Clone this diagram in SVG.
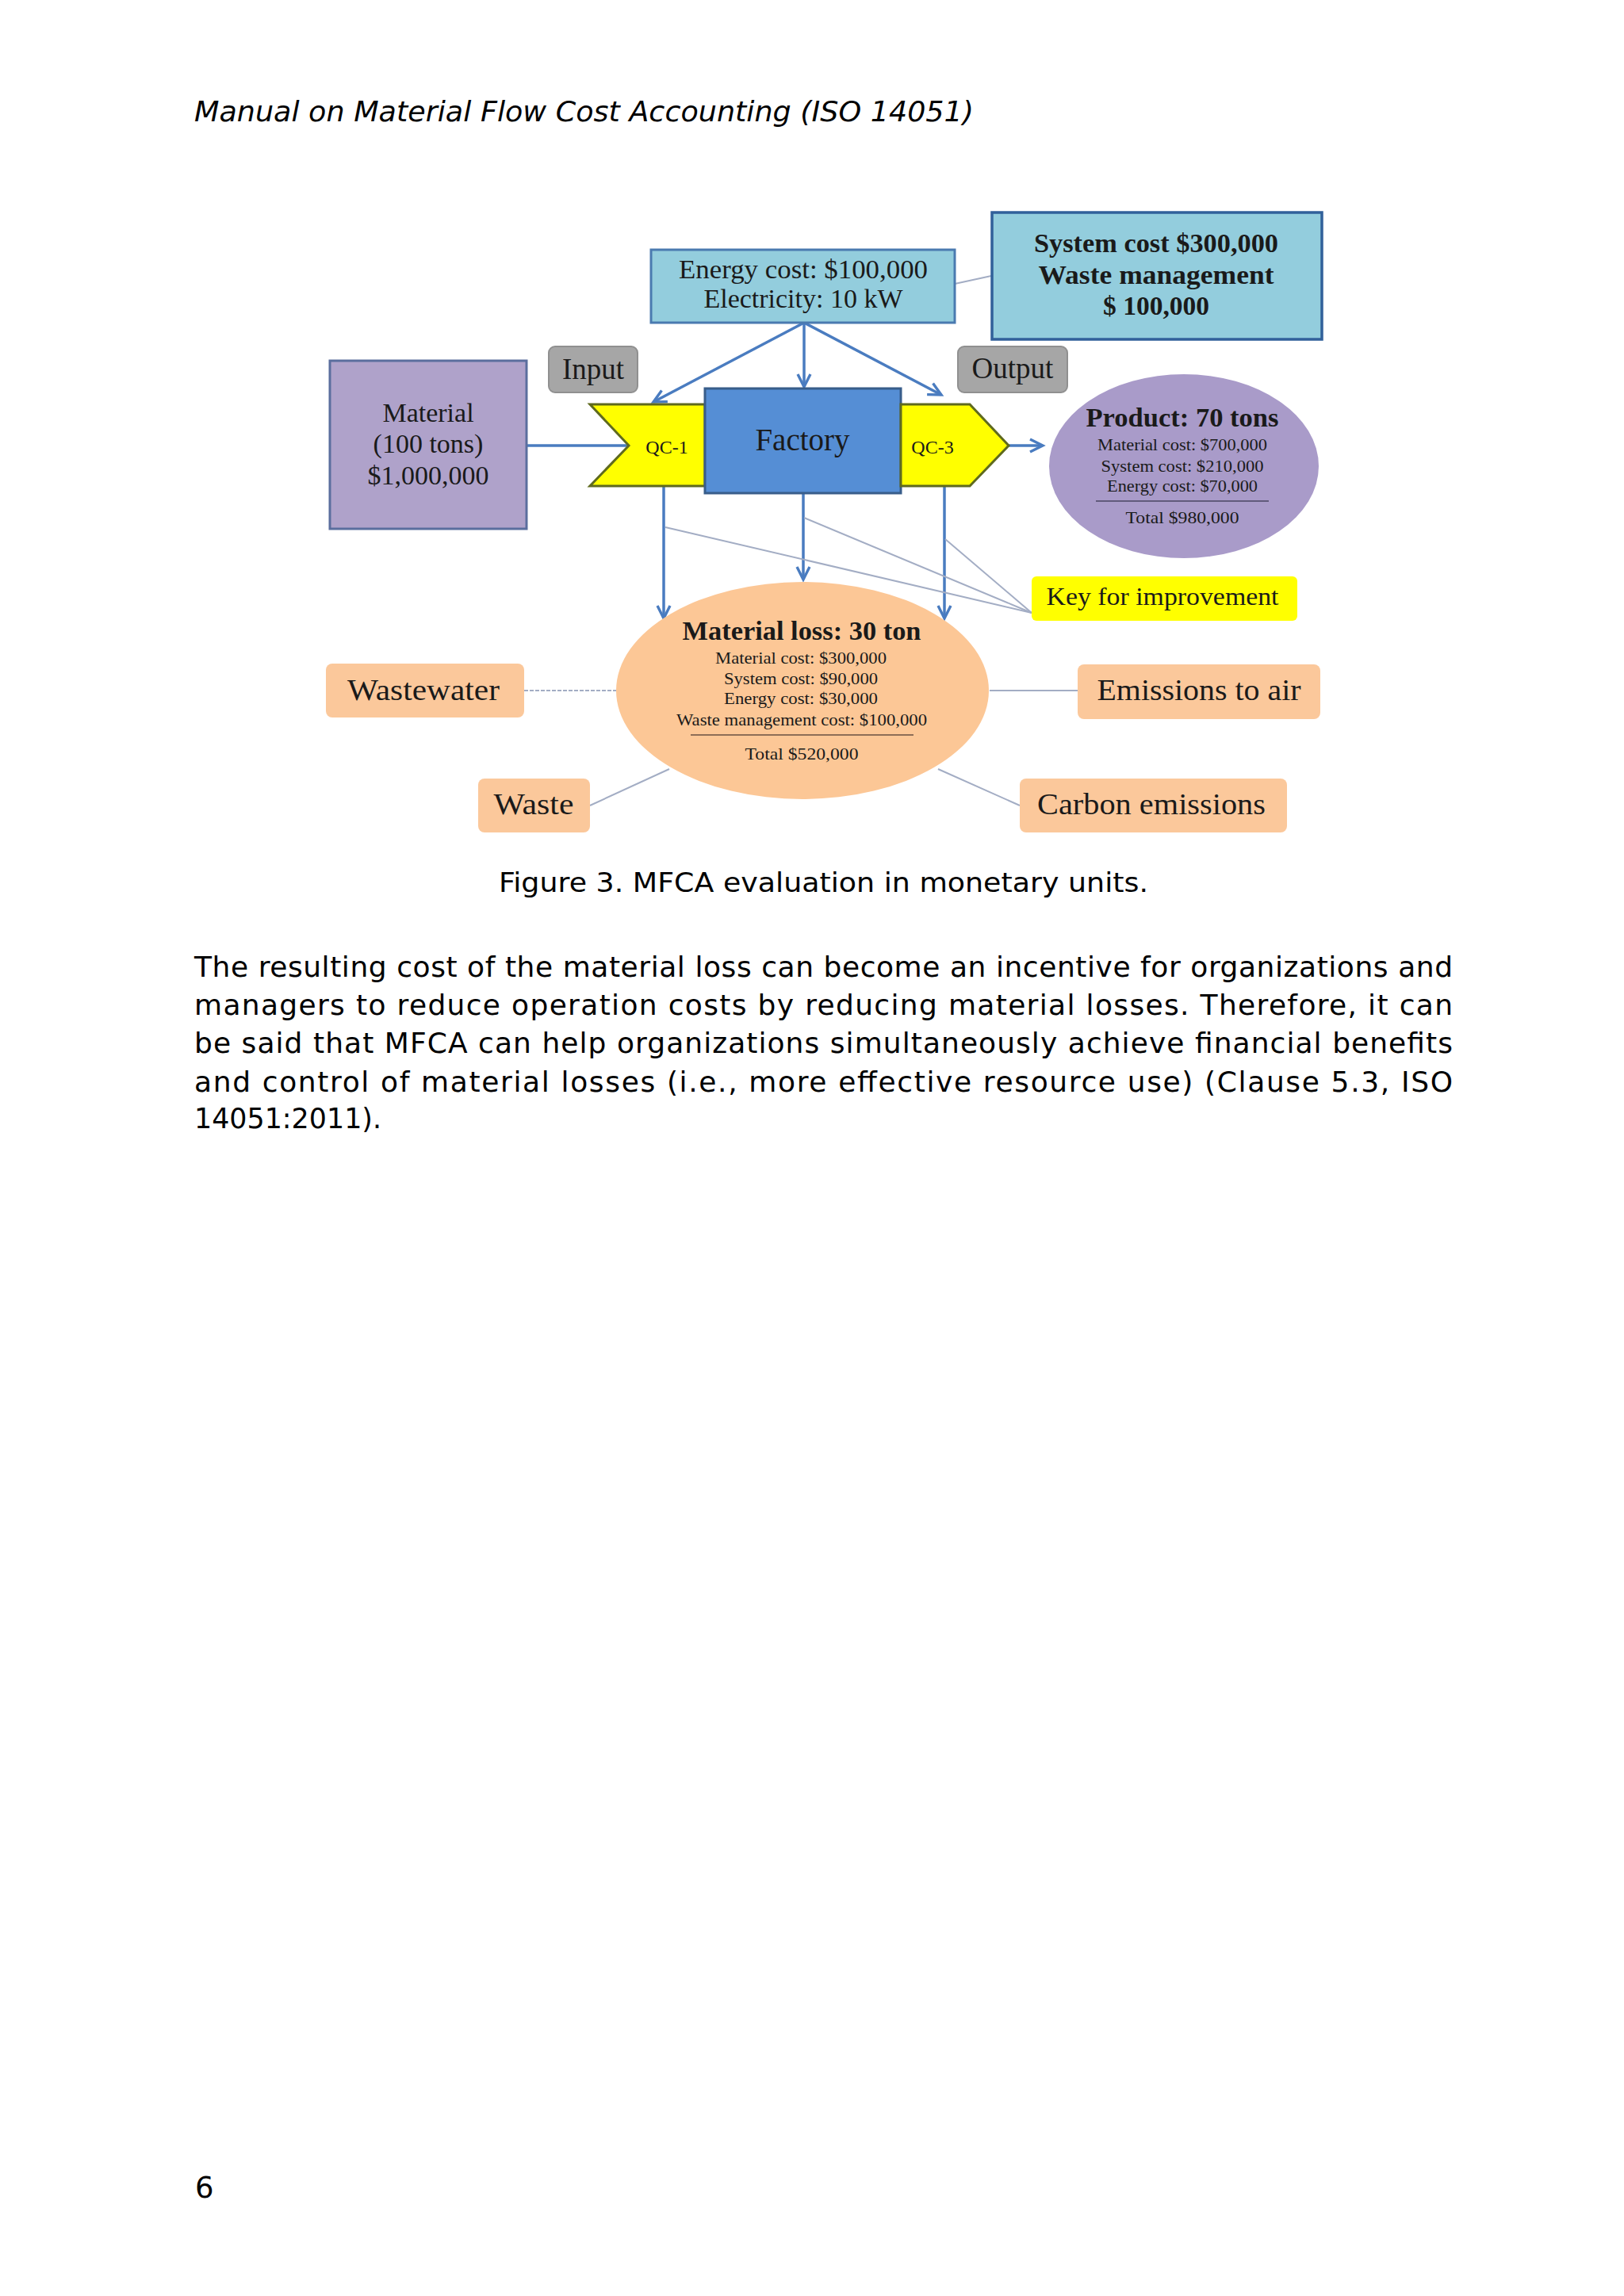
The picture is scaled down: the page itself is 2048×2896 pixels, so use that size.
<svg xmlns="http://www.w3.org/2000/svg" width="2048" height="2896" viewBox="0 0 2048 2896">
<defs>
<style>
.page{font-family:"DejaVu Sans","Verdana",sans-serif;fill:#000}
.serif{font-family:"Liberation Serif","Times New Roman",serif;fill:#1a1a1a}
.blue{stroke:#4a7cc0;stroke-width:3.5;fill:none}
.thin{stroke:#a3adc4;stroke-width:2;fill:none}
.peach{fill:#fbc89b}
</style>
<marker id="arr" markerUnits="userSpaceOnUse" markerWidth="26" markerHeight="26" viewBox="0 0 26 26" refX="22" refY="13" orient="auto">
<path d="M6,5 L22,13 L6,21" fill="none" stroke="#4a7cc0" stroke-width="3.4"/>
</marker>
</defs>
<rect width="2048" height="2896" fill="#ffffff"/>

<text class="page" x="245" y="153" font-size="36" font-style="italic" textLength="983" lengthAdjust="spacingAndGlyphs">Manual on Material Flow Cost Accounting (ISO 14051)</text>

<g id="connectors">
<line class="thin" x1="1204" y1="358" x2="1250" y2="348"/>
<line class="blue" x1="1014" y1="407" x2="824" y2="507" marker-end="url(#arr)"/>
<line class="blue" x1="1014" y1="407" x2="1014" y2="488" marker-end="url(#arr)"/>
<line class="blue" x1="1014" y1="407" x2="1187" y2="498" marker-end="url(#arr)"/>
<line class="blue" x1="664" y1="562" x2="793" y2="562"/>
<line class="blue" x1="1272" y1="562" x2="1315" y2="562" marker-end="url(#arr)"/>
<line class="blue" x1="837" y1="613" x2="837" y2="780" marker-end="url(#arr)"/>
<line class="blue" x1="1013" y1="622" x2="1013" y2="731" marker-end="url(#arr)"/>
<line class="blue" x1="1191" y1="613" x2="1191" y2="780" marker-end="url(#arr)"/>
<line class="thin" x1="839" y1="665" x2="1301" y2="773"/>
<line class="thin" x1="1014" y1="653" x2="1301" y2="773"/>
<line class="thin" x1="1192" y1="680" x2="1301" y2="773"/>
<line class="thin" x1="661" y1="871" x2="777" y2="871" stroke-dasharray="5 2"/>
<line class="thin" x1="744" y1="1016" x2="844" y2="970"/>
<line class="thin" x1="1248" y1="871" x2="1359" y2="871"/>
<line class="thin" x1="1183" y1="970" x2="1286" y2="1016"/>
</g>

<g id="material">
<rect x="416" y="455" width="248" height="212" fill="#afa2ca" stroke="#5b6e9e" stroke-width="3"/>
<text class="serif" x="540" y="532" font-size="34" text-anchor="middle">Material</text>
<text class="serif" x="540" y="571" font-size="34" text-anchor="middle">(100 tons)</text>
<text class="serif" x="540" y="611" font-size="34" text-anchor="middle">$1,000,000</text>
</g>

<g id="input">
<rect x="692" y="437" width="112" height="58" rx="8" fill="#a6a6a6" stroke="#909090" stroke-width="2"/>
<text class="serif" x="748" y="478" font-size="37" text-anchor="middle">Input</text>
</g>

<g id="energy">
<rect x="821" y="315" width="383" height="92" fill="#93cddd" stroke="#4a7ab0" stroke-width="3"/>
<text class="serif" x="1013" y="351" font-size="34" text-anchor="middle" fill="#1a2a40" textLength="314" lengthAdjust="spacingAndGlyphs">Energy cost: $100,000</text>
<text class="serif" x="1013" y="388" font-size="34" text-anchor="middle" fill="#1a2a40">Electricity: 10 kW</text>
</g>

<g id="system">
<rect x="1251" y="268" width="416" height="160" fill="#93cddd" stroke="#31609a" stroke-width="3.5"/>
<text class="serif" x="1458" y="318" font-size="34" font-weight="bold" text-anchor="middle" fill="#0f1f3a" textLength="308" lengthAdjust="spacingAndGlyphs">System cost $300,000</text>
<text class="serif" x="1458" y="358" font-size="34" font-weight="bold" text-anchor="middle" fill="#0f1f3a" textLength="297" lengthAdjust="spacingAndGlyphs">Waste  management</text>
<text class="serif" x="1458" y="397" font-size="34" font-weight="bold" text-anchor="middle" fill="#0f1f3a" textLength="134" lengthAdjust="spacingAndGlyphs">$ 100,000</text>
</g>

<g id="output">
<rect x="1208" y="437" width="138" height="58" rx="8" fill="#a6a6a6" stroke="#909090" stroke-width="2"/>
<text class="serif" x="1277" y="477" font-size="37" text-anchor="middle">Output</text>
</g>

<g id="qc1">
<polygon points="744,510 889,510 889,613 744,613 793,562" fill="#ffff00" stroke="#5f6a1e" stroke-width="3"/>
<text class="serif" x="841" y="572" font-size="24" text-anchor="middle" fill="#3a3a10">QC-1</text>
</g>

<g id="factory">
<rect x="889" y="490" width="247" height="132" fill="#558ed5" stroke="#385d8a" stroke-width="3"/>
<text class="serif" x="1012" y="568" font-size="39" text-anchor="middle" fill="#17294d">Factory</text>
</g>

<g id="qc3">
<polygon points="1136,510 1223,510 1272,562 1223,613 1136,613" fill="#ffff00" stroke="#5f6a1e" stroke-width="3"/>
<text class="serif" x="1176" y="572" font-size="24" text-anchor="middle" fill="#3a3a10">QC-3</text>
</g>

<g id="product">
<ellipse cx="1493" cy="588" rx="170" ry="116" fill="#a99bc9"/>
<text class="serif" x="1491" y="538" font-size="34" font-weight="bold" text-anchor="middle" fill="#111" textLength="243" lengthAdjust="spacingAndGlyphs">Product: 70 tons</text>
<text class="serif" x="1491" y="568" font-size="22" text-anchor="middle" textLength="214" lengthAdjust="spacingAndGlyphs">Material cost: $700,000</text>
<text class="serif" x="1491" y="595" font-size="22" text-anchor="middle" textLength="205" lengthAdjust="spacingAndGlyphs">System cost: $210,000</text>
<text class="serif" x="1491" y="620" font-size="22" text-anchor="middle" textLength="190" lengthAdjust="spacingAndGlyphs">Energy cost: $70,000</text>
<line x1="1382" y1="632" x2="1600" y2="632" stroke="#4a4560" stroke-width="1.5"/>
<text class="serif" x="1491" y="660" font-size="22" text-anchor="middle" textLength="143" lengthAdjust="spacingAndGlyphs">Total $980,000</text>
</g>

<g id="key">
<rect x="1301" y="727" width="335" height="56" rx="6" fill="#ffff00"/>
<text class="serif" x="1466" y="763" font-size="32" text-anchor="middle" fill="#2a2a10" textLength="293" lengthAdjust="spacingAndGlyphs">Key for improvement</text>
</g>

<g id="loss">
<ellipse cx="1012" cy="871" rx="235" ry="137" fill="#fcc796"/>
<text class="serif" x="1011" y="807" font-size="34" font-weight="bold" text-anchor="middle" fill="#111" textLength="301" lengthAdjust="spacingAndGlyphs">Material loss: 30 ton</text>
<text class="serif" x="1010" y="837" font-size="22" text-anchor="middle" textLength="216" lengthAdjust="spacingAndGlyphs">Material cost: $300,000</text>
<text class="serif" x="1010" y="863" font-size="22" text-anchor="middle" textLength="194" lengthAdjust="spacingAndGlyphs">System cost: $90,000</text>
<text class="serif" x="1010" y="888" font-size="22" text-anchor="middle" textLength="194" lengthAdjust="spacingAndGlyphs">Energy cost: $30,000</text>
<text class="serif" x="1011" y="915" font-size="22" text-anchor="middle" textLength="316" lengthAdjust="spacingAndGlyphs">Waste management cost: $100,000</text>
<line x1="871" y1="927" x2="1152" y2="927" stroke="#6a5040" stroke-width="1.5"/>
<text class="serif" x="1011" y="958" font-size="22" text-anchor="middle" textLength="143" lengthAdjust="spacingAndGlyphs">Total $520,000</text>
</g>

<g id="wastewater">
<rect class="peach" x="411" y="837" width="250" height="68" rx="8"/>
<text class="serif" x="534" y="883" font-size="38" text-anchor="middle" fill="#2a1a10" textLength="192" lengthAdjust="spacingAndGlyphs">Wastewater</text>
</g>

<g id="waste">
<rect class="peach" x="603" y="982" width="141" height="68" rx="8"/>
<text class="serif" x="673" y="1027" font-size="38" text-anchor="middle" fill="#2a1a10" textLength="101" lengthAdjust="spacingAndGlyphs">Waste</text>
</g>

<g id="emissions">
<rect class="peach" x="1359" y="838" width="306" height="69" rx="8"/>
<text class="serif" x="1512" y="883" font-size="38" text-anchor="middle" fill="#2a1a10" textLength="257" lengthAdjust="spacingAndGlyphs">Emissions to air</text>
</g>

<g id="carbon">
<rect class="peach" x="1286" y="982" width="337" height="68" rx="8"/>
<text class="serif" x="1452" y="1027" font-size="38" text-anchor="middle" fill="#2a1a10" textLength="288" lengthAdjust="spacingAndGlyphs">Carbon emissions</text>
</g>

<text class="page" x="629" y="1125" font-size="33" textLength="819" lengthAdjust="spacingAndGlyphs">Figure 3. MFCA evaluation in monetary units.</text>

<g class="page" font-size="36">
<text x="245" y="1232" textLength="1587" lengthAdjust="spacing">The resulting cost of the material loss can become an incentive for organizations and</text>
<text x="245" y="1280" textLength="1587" lengthAdjust="spacing">managers to reduce operation costs by reducing material losses. Therefore, it can</text>
<text x="245" y="1328" textLength="1587" lengthAdjust="spacing">be said that MFCA can help organizations simultaneously achieve financial benefits</text>
<text x="245" y="1377" textLength="1587" lengthAdjust="spacing">and control of material losses (i.e., more effective resource use) (Clause 5.3, ISO</text>
<text x="245" y="1423" textLength="236" lengthAdjust="spacingAndGlyphs">14051:2011).</text>
</g>

<text class="page" x="246" y="2772" font-size="37">6</text>
</svg>
